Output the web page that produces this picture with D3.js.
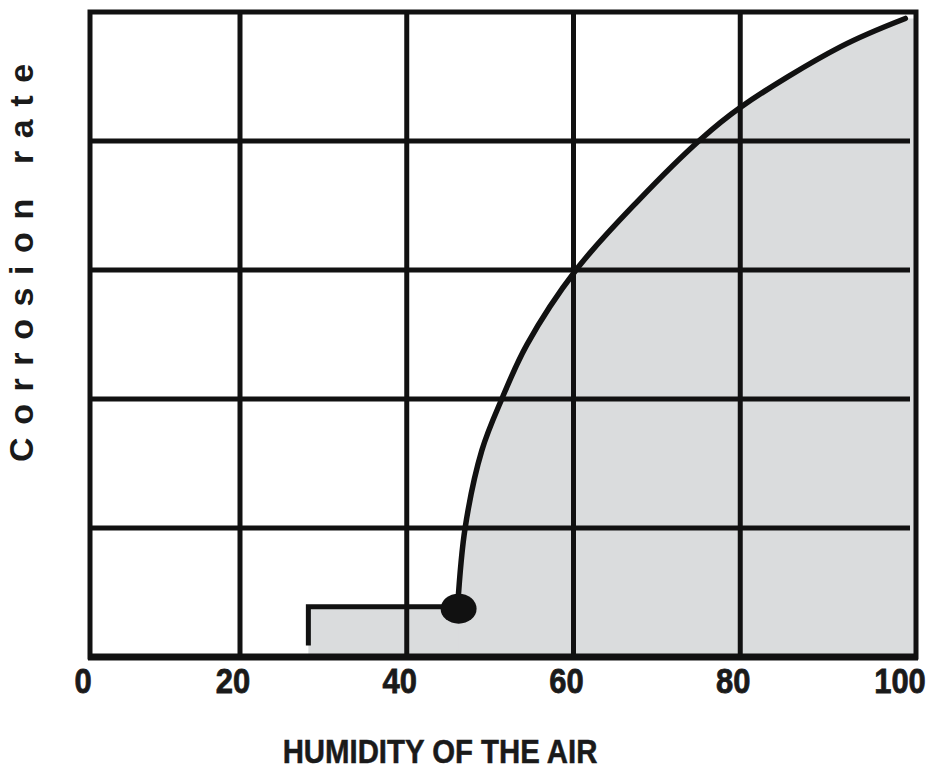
<!DOCTYPE html>
<html>
<head>
<meta charset="utf-8">
<script src="https://cdn.jsdelivr.net/npm/d3@7"></script>
<style>
  body { margin: 0; background: #fff; }
  svg { display: block; }
</style>
</head>
<body>
<div id="chart"></div>
<script>
// values
const humidity  = [46.1, 47.0, 49.0, 51.4, 54.4, 60.3, 67.8, 75.2, 80.0, 92.0, 99.8];
const corrosion = [0.39, 1.0, 1.60, 2.0, 2.42, 3.0, 3.54, 4.01, 4.26, 4.73, 4.95];
const stepHumidity = [28.2, 28.2, 46.1];
const stepRate     = [0.09, 0.39, 0.39];
const xTicks = [0, 20, 40, 60, 80, 100];
const yGrid  = [1, 2, 3, 4];
const xTitle = "HUMIDITY OF THE AIR";
const yTitle = "Corrosion rate";

const width = 927,
      height = 769;
const frameRight = 916;

const svg = d3.select("#chart")
  .append("svg")
    .attr("width", width)
    .attr("height", height);

// hand drawn axis: 0 sits on the frame, the rest evenly spaced
const x = d3.scaleLinear()
  .domain([0, 20, 100])
  .range([90, 240, 907]);

const y = d3.scaleLinear()
  .domain([0, 5])
  .range([657, 12]);

const curveData = humidity.map((h, i) => ({h: h, r: corrosion[i]}));
const stepData = stepHumidity.map((h, i) => ({h: h, r: stepRate[i]}));

const line = d3.line()
  .x(d => x(d.h))
  .y(d => y(d.r))
  .curve(d3.curveCatmullRom.alpha(0.5));

const shade = "#dadcdd";

// shaded zone under the curve
const last = curveData[curveData.length - 1];
svg.append("path")
  .attr("d", line(curveData) +
    `L${frameRight},${y(last.r)}L${frameRight},${y(0)}L${x(humidity[0])},${y(0)}Z`)
  .attr("fill", shade);

svg.append("rect")
  .attr("x", x(stepHumidity[0]))
  .attr("y", y(stepRate[1]))
  .attr("width", x(stepHumidity[2]) - x(stepHumidity[0]) + 1)
  .attr("height", y(0) - y(stepRate[1]))
  .attr("fill", shade);

// grid
svg.append("g")
  .selectAll("line")
  .data(xTicks.slice(1, -1))
  .join("line")
    .attr("x1", d => x(d))
    .attr("x2", d => x(d))
    .attr("y1", y(5))
    .attr("y2", y(0))
    .attr("stroke", "#111")
    .attr("stroke-width", 5);

svg.append("g")
  .selectAll("line")
  .data(yGrid)
  .join("line")
    .attr("x1", x(0))
    .attr("x2", x(100) + 3)
    .attr("y1", d => y(d))
    .attr("y2", d => y(d))
    .attr("stroke", "#111")
    .attr("stroke-width", 5);

// frame
svg.append("rect")
  .attr("x", x(0))
  .attr("y", y(5))
  .attr("width", frameRight - x(0))
  .attr("height", y(0) - y(5))
  .attr("fill", "none")
  .attr("stroke", "#111")
  .attr("stroke-width", 5);

svg.append("line")
  .attr("x1", x(0) - 2)
  .attr("x2", frameRight + 2)
  .attr("y1", y(0))
  .attr("y2", y(0))
  .attr("stroke", "#111")
  .attr("stroke-width", 7);

// threshold step
svg.append("path")
  .attr("d", d3.line().x(d => x(d.h)).y(d => y(d.r))(stepData))
  .attr("fill", "none")
  .attr("stroke", "#111")
  .attr("stroke-width", 5);

// curve
svg.append("path")
  .attr("d", line(curveData))
  .attr("fill", "none")
  .attr("stroke", "#111")
  .attr("stroke-width", 5.5)
  .attr("stroke-linecap", "round");

svg.append("ellipse")
  .attr("cx", x(humidity[0]) + 1)
  .attr("cy", y(corrosion[0]) + 2)
  .attr("rx", 18)
  .attr("ry", 15)
  .attr("fill", "#111");

// tick labels (condensed bold)
svg.append("g")
  .selectAll("text")
  .data(xTicks)
  .join("text")
    .attr("transform", d => `translate(${x(d) - 7},693) scale(0.86,1)`)
    .attr("text-anchor", "middle")
    .style("font-family", "'Liberation Sans', Arial, sans-serif")
    .style("font-weight", "bold")
    .style("font-size", "36px")
    .style("fill", "#1a1a1a")
    .style("stroke", "#1a1a1a")
    .style("stroke-width", 0.8)
    .text(d => d);

// axis titles
svg.append("text")
  .attr("transform", "translate(440,763) scale(0.89,1)")
  .attr("text-anchor", "middle")
  .style("font-family", "'Liberation Sans', Arial, sans-serif")
  .style("font-weight", "bold")
  .style("font-size", "33px")
  .style("fill", "#1a1a1a")
  .style("stroke", "#1a1a1a")
  .style("stroke-width", 0.5)
  .text(xTitle);

svg.append("text")
  .attr("transform", "translate(33,462) rotate(-90)")
  .attr("text-anchor", "start")
  .style("font-family", "'Liberation Sans', Arial, sans-serif")
  .style("font-weight", "bold")
  .style("font-size", "34px")
  .style("letter-spacing", "12.6px")
  .style("fill", "#1a1a1a")
  .text(yTitle);
</script>
</body>
</html>
